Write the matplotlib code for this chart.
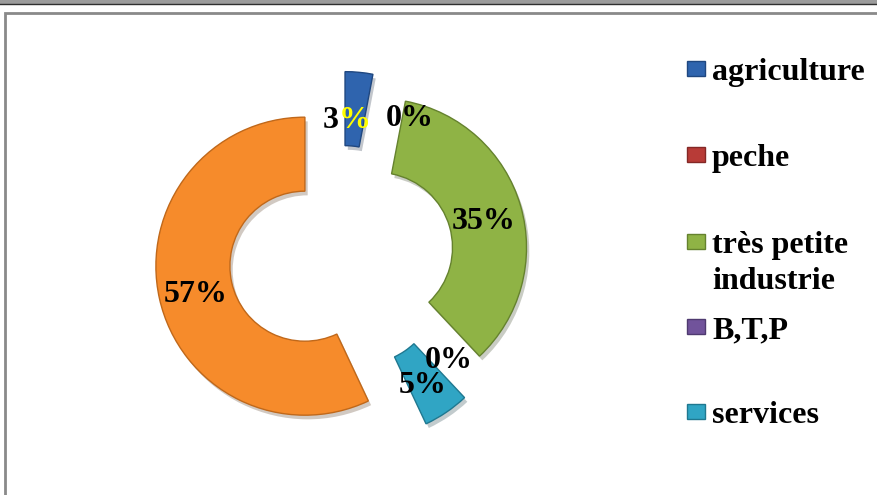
import numpy as np
import matplotlib.pyplot as plt
import matplotlib.patheffects as pe
from matplotlib.patches import Rectangle

# parts du secteur d'activite (%), dans l'ordre du graphique
categories = ['agriculture', 'peche', 'très petite\nindustrie', 'B,T,P', 'services']
values = [3, 0, 35, 0, 5, 57]
colors = ['#2F64AE', '#B83B37', '#8FB345', '#71539B', '#30A5C4', '#F68B2B']
edges = ['#1F4780', '#842826', '#65822E', '#4F3A70', '#1F7890', '#C0681A']

W, H = 877, 495
cx, cy = 341.5, 258        # centre of the ring, pixels from top-left
R, ring = 149, 74
explode = [37.5] * len(values)

fig = plt.figure(figsize=(W / 100, H / 100), dpi=100)
ax = fig.add_axes([0, 0, 1, 1])

wedges, _ = ax.pie(values, radius=R, center=(cx, H - cy), startangle=90,
                   counterclock=False, colors=colors, explode=explode,
                   wedgeprops=dict(width=ring, linewidth=1))
for w, ec, v in zip(wedges, edges, values):
    if v == 0:
        w.set_linewidth(0)
        continue
    w.set_edgecolor(ec)
    w.set_path_effects([pe.SimplePatchShadow(offset=(2, -3), alpha=0.25),
                        pe.Normal()])

ax.set_xlim(0, W)
ax.set_ylim(0, H)
ax.set_aspect('equal')
ax.axis('off')

font = dict(family='Liberation Serif', weight='bold', size=23)

# data labels in the middle of each ring segment
zero_pos = {1: (410, 118), 3: (449, 360)}
nudge = {0: (-10, 11), 2: (-1, 5), 4: (-3, 4), 5: (0, 4)}
for i, (w, v) in enumerate(zip(wedges, values)):
    if v == 0:
        x, y = zero_pos[i]
        ax.text(x, H - y, f'{v}%', ha='center', va='center', **font)
        continue
    th = np.deg2rad((w.theta1 + w.theta2) / 2)
    rm = w.r - w.width / 2
    x = w.center[0] + rm * np.cos(th) + nudge[i][0]
    y = w.center[1] + rm * np.sin(th) - nudge[i][1]
    if i == 0:
        num, pct = f'{v}%'[:-1], '%'
        ax.text(x - 7, y, num, ha='right', va='center', color='black', **font)
        ax.text(x - 7, y, pct, ha='left', va='center', color='#FFFF00', **font)
    else:
        ax.text(x, y, f'{v}%', ha='center', va='center', **font)

# legend on the right
baselines = [80, 166, 253, 338, 423]
for lab, col, ec, b in zip(categories, colors, edges, baselines):
    ax.add_patch(Rectangle((687, H - (b - 4)), 18, 15, facecolor=col,
                           edgecolor=ec, linewidth=1))
    for k, line in enumerate(lab.split('\n')):
        ax.text(712, H - (b + 36 * k), line, ha='left', va='baseline', **font)

# page band and chart frame
ax.add_patch(Rectangle((0, H - 4), W, 4, facecolor='#9C9C9C', edgecolor='none',
                       clip_on=False))
ax.plot([0, W], [H - 4, H - 4], color='#303030', lw=1, clip_on=False)
ax.plot([5, 5, W], [0, H - 13, H - 13], color='#8A8A8A', lw=2,
        solid_joinstyle='miter', clip_on=False)

fig.savefig('out.png', dpi=100)
